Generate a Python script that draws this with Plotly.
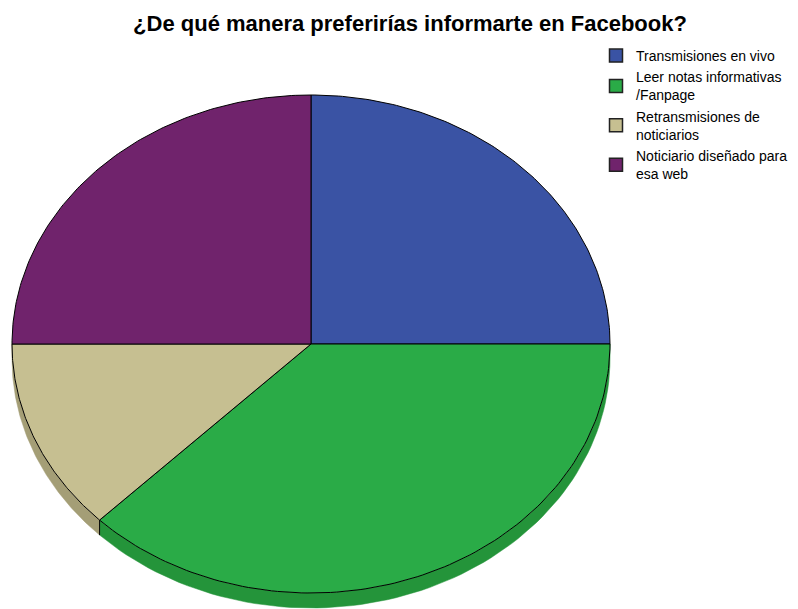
import numpy as np
import plotly.graph_objects as go

# ---- data ----
categories = ["Transmisiones en vivo", "Leer notas informativas<br>/Fanpage",
              "Retransmisiones de<br>noticiarios", "Noticiario diseñado para<br>esa web"]
values = [25.0, 37.5, 12.5, 25.0]
colors = ["#3A53A4", "#2AAB47", "#C6BF91", "#70236C"]
side_colors = ["#2E4385", "#24943A", "#A49E76", "#5A1C57"]

# ---- geometry (layout only) ----
W, H = 798, 609
OFF = 8  # page body margin
cx, cy = 311, 344
rx, ry = 299, 249
depth = 15

def pt(theta_deg, dy=0.0):
    t = np.radians(theta_deg)
    return cx + rx * np.sin(t), cy - ry * np.cos(t) + dy

def px(x):
    return (x - OFF) / W

def py(y):
    return 1 - (y - OFF) / H

fig = go.Figure()

total = sum(values)
bounds = []
start = 0.0
for v in values:
    end = start + 360.0 * v / total
    bounds.append((start, end))
    start = end

# side (3D rim) for lower half: theta in [90, 270]
for (a, b), sc in zip(bounds, side_colors):
    lo, hi = max(a, 90.0), min(b, 270.0)
    if hi <= lo:
        continue
    th = np.linspace(lo, hi, 80)
    xt, yt = pt(th)
    xb, yb = pt(th[::-1], depth)
    fig.add_trace(go.Scatter(x=np.concatenate([xt, xb, xt[:1]]),
                             y=np.concatenate([yt, yb, yt[:1]]),
                             mode="lines", fill="toself", fillcolor=sc,
                             line=dict(color=sc, width=0.5),
                             hoverinfo="skip", showlegend=False))

# dividers on the rim
for (a, b) in bounds:
    if 90.0 < a < 270.0:
        x0, y0 = pt(a)
        fig.add_trace(go.Scatter(x=[x0, x0], y=[y0, y0 + depth], mode="lines",
                                 line=dict(color="black", width=1),
                                 hoverinfo="skip", showlegend=False))

# top face slices
for (a, b), c, name, v in zip(bounds, colors, categories, values):
    th = np.linspace(a, b, 120)
    xs, ys = pt(th)
    fig.add_trace(go.Scatter(x=np.concatenate([[cx], xs, [cx]]),
                             y=np.concatenate([[cy], ys, [cy]]),
                             mode="lines", fill="toself", fillcolor=c,
                             line=dict(color="black", width=1),
                             name=name, text=f"{v}%", hoverinfo="text",
                             showlegend=False))

# legend entries
for name, c in zip(categories, colors):
    fig.add_trace(go.Scatter(x=[None], y=[None], mode="markers", name=name,
                             marker=dict(symbol="square", size=13, color=c,
                                         line=dict(color="#222222", width=1.5))))

fig.update_layout(
    width=W, height=H,
    margin=dict(l=0, r=0, t=0, b=0),
    paper_bgcolor="white", plot_bgcolor="white",
    xaxis=dict(range=[OFF, W + OFF], visible=False, fixedrange=True),
    yaxis=dict(range=[H + OFF, OFF], visible=False, fixedrange=True),
    title=dict(text="<b>¿De qué manera preferirías informarte en Facebook?</b>",
               x=px(410), xanchor="center", y=py(23), yanchor="middle",
               font=dict(family="Liberation Sans, Arial", size=22, color="black")),
    legend=dict(x=px(596), y=py(40), xanchor="left", yanchor="top",
                font=dict(family="Liberation Sans, Arial", size=14, color="black"),
                bgcolor="rgba(0,0,0,0)", itemwidth=30, tracegroupgap=0),
    showlegend=True,
)

fig.write_html("out.html")
